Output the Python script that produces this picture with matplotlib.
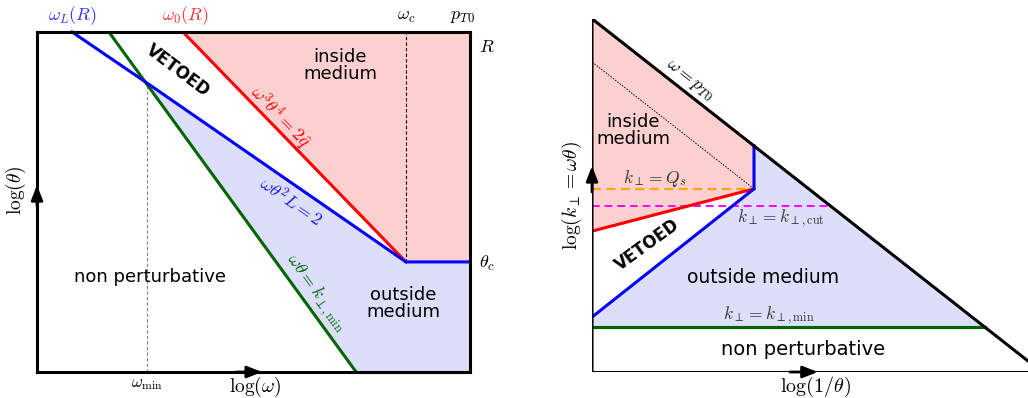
import matplotlib
matplotlib.use('Agg')
from matplotlib import pyplot as plt

plt.rcParams['mathtext.fontset'] = 'cm'
plt.rcParams['font.family'] = 'DejaVu Sans'

# left panel: x = log(omega), y = log(theta)
x_max, y_max = 10.0, 8.0
blue_x = [0.81, 2.54, 8.52, 10.0]      # omega theta^2 L = 2, then theta = theta_c
blue_y = [8.0, 6.80, 2.59, 2.59]
green_x = [1.66, 7.37]                  # omega theta = k_perp,min
green_y = [8.0, 0.0]
red_x = [3.37, 8.52]                    # omega^3 theta^4 = 2 qhat
red_y = [8.0, 2.59]
w_min = 2.54
w_c = 8.52
theta_c = 2.59

# right panel: x = log(1/theta), y = log(k_perp)
apex_y = 7.85                           # omega = p_T0 line from (0, apex_y) to (hyp_x, 0)
hyp_x = 10.0
qs_x, qs_y = 3.60, 4.07                 # k_perp = Q_s corner
kcut_y = 3.69
kmin_y = 1.00
blue_r_y0 = 1.22                        # blue line at x = 0
red_r_y0 = 3.13                         # red line at x = 0
dot_y0 = 6.89                           # thin dashed line at x = 0


def hyp(x):
    return apex_y * (1 - x / hyp_x)


def hyp_inv(y):
    return hyp_x * (1 - y / apex_y)


pink = '#fdd0d0'
lav = '#dcdefa'
dgreen = '#006400'
kgrey = '#333333'

fig = plt.figure(figsize=(10.28, 3.98), dpi=100)

# ---------------- left panel ----------------
ax = fig.add_axes([37 / 1028, 26 / 398, 433 / 1028, 340 / 398])
ax.set_xlim(0, x_max)
ax.set_ylim(0, y_max)
ax.set_xticks([])
ax.set_yticks([])
for s in ax.spines.values():
    s.set_linewidth(2.2)

ax.fill([red_x[0], x_max, x_max, red_x[1]], [y_max, y_max, theta_c, theta_c], color=pink, lw=0)
ax.fill([blue_x[1], blue_x[2], x_max, x_max, green_x[1]],
        [blue_y[1], blue_y[2], theta_c, 0, 0], color=lav, lw=0)

ax.plot([w_c, w_c], [theta_c, y_max], color='k', ls=(0, (3, 2)), lw=0.8)
ax.plot([w_min, w_min], [0, blue_y[1]], color='gray', ls=(0, (3, 2)), lw=0.8)

ax.plot(red_x, red_y, color='red', lw=2.2)
ax.plot(green_x, green_y, color=dgreen, lw=2.2)
ax.plot(blue_x, blue_y, color='blue', lw=2.2, clip_on=False)

ap = dict(arrowstyle='-|>,head_length=0.9,head_width=0.35', color='k', lw=2, shrinkA=0, shrinkB=0)
ax.annotate('', xy=(0, 4.4), xytext=(0, 3.9), arrowprops=ap)
ax.annotate('', xy=(5.2, 0), xytext=(4.6, 0), arrowprops=ap)

ax.text(0.81, 8.38, r'$\omega_L(R)$', color='#3030ff', fontsize=13, ha='center', va='center')
ax.text(3.42, 8.38, r'$\omega_0(R)$', color='#ff3030', fontsize=13, ha='center', va='center')
ax.text(8.52, 8.38, r'$\omega_c$', fontsize=13, ha='center', va='center')
ax.text(9.82, 8.38, r'$p_{T0}$', fontsize=13, ha='center', va='center')
ax.text(10.39, 7.65, r'$R$', fontsize=13, ha='center', va='center')
ax.text(10.39, 2.56, r'$\theta_c$', fontsize=13, ha='center', va='center')
ax.text(w_min, -0.27, r'$\omega_{\min}$', fontsize=12, ha='center', va='center')
ax.text(5.03, -0.36, r'$\log(\omega)$', fontsize=14, ha='center', va='center')
ax.text(-0.48, 4.28, r'$\log(\theta)$', fontsize=14, ha='center', va='center', rotation=90)

ax.text(3.26, 7.1, 'VETOED', fontsize=12, fontweight='bold', ha='center', va='center', rotation=-37)
ax.text(7.0, 7.22, 'inside\nmedium', fontsize=13, ha='center', va='center', linespacing=0.95)
ax.text(5.6, 6.0, r'$\omega^3\theta^4=2\hat{q}$', color='red', fontsize=13,
        ha='center', va='center', rotation=-45.8)
ax.text(5.87, 4.0, r'$\omega\theta^2L=2$', color='#2020dd', fontsize=13,
        ha='center', va='center', rotation=-34.4)
ax.text(6.44, 1.86, r'$\omega\theta=k_{\perp,\min}$', color=dgreen, fontsize=13,
        ha='center', va='center', rotation=-54)
ax.text(2.61, 2.24, 'non perturbative', fontsize=13, ha='center', va='center')
ax.text(8.45, 1.62, 'outside\nmedium', fontsize=13, ha='center', va='center', linespacing=0.95)

# ---------------- right panel ----------------
bx = fig.add_axes([592 / 1028, 26 / 398, 436 / 1028, 353 / 398])
bx.set_xlim(0, 436 / 45)
bx.set_ylim(0, 353 / 45)
bx.axis('off')

bx.fill([0, qs_x, qs_x, 0], [apex_y, hyp(qs_x), qs_y, red_r_y0], color=pink, lw=0)
bx.fill([qs_x, hyp_inv(kmin_y), 0, 0, qs_x], [hyp(qs_x), kmin_y, kmin_y, blue_r_y0, qs_y],
        color=lav, lw=0)

bx.plot([0, qs_x], [dot_y0, qs_y], color='k', ls=(0, (2, 1.5)), lw=0.6)
bx.plot([0, qs_x], [qs_y, qs_y], color='orange', ls=(0, (4, 2.5)), lw=1.6)
bx.plot([0, hyp_inv(kcut_y)], [kcut_y, kcut_y], color='magenta', ls=(0, (4, 2.5)), lw=1.4)
bx.plot([0, qs_x], [red_r_y0, qs_y], color='red', lw=2.2)
bx.plot([qs_x, qs_x, 0], [hyp(qs_x), qs_y, blue_r_y0], color='blue', lw=2.2)
bx.plot([0, hyp_inv(kmin_y)], [kmin_y, kmin_y], color=dgreen, lw=2.2)

bx.plot([0, 0, hyp_x], [0, apex_y, 0], color='k', lw=2.2)
bx.plot([0, hyp_x], [0, 0], color='k', lw=2.2)

bx.annotate('', xy=(0, 4.58), xytext=(0, 4.0), arrowprops=ap)
bx.annotate('', xy=(5.02, 0), xytext=(4.4, 0), arrowprops=ap)

bx.text(2.16, 6.49, r'$\omega=p_{T0}$', fontsize=13, ha='center', va='center', rotation=-38)
bx.text(0.91, 5.36, 'inside\nmedium', fontsize=13, ha='center', va='center', linespacing=0.95)
bx.text(1.4, 4.31, r'$k_\perp=Q_s$', fontsize=12.5, color=kgrey, ha='center', va='center')
bx.text(4.2, 3.4, r'$k_\perp=k_{\perp,\mathrm{cut}}$', fontsize=12.5, color=kgrey, ha='center', va='center')
bx.text(1.24, 2.82, 'VETOED', fontsize=12, fontweight='bold', ha='center', va='center', rotation=36)
bx.text(3.8, 2.09, 'outside medium', fontsize=13.5, ha='center', va='center')
bx.text(3.93, 1.24, r'$k_\perp=k_{\perp,\min}$', fontsize=12.5, color=kgrey, ha='center', va='center')
bx.text(4.69, 0.51, 'non perturbative', fontsize=14, ha='center', va='center')
bx.text(4.96, -0.34, r'$\log(1/\theta)$', fontsize=14.5, ha='center', va='center')
bx.text(-0.44, 3.93, r'$\log(k_\perp=\omega\theta)$', fontsize=14, ha='center', va='center', rotation=90)

fig.savefig('out.png', dpi=100)
